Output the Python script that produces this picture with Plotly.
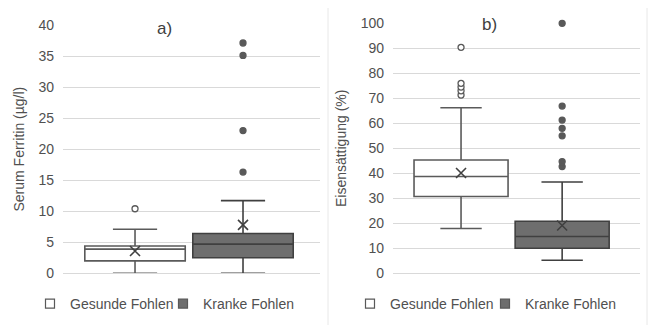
import plotly.graph_objects as go

# ---------------- data ----------------
groups = ["Gesunde Fohlen", "Kranke Fohlen"]

# a) Serum Ferritin (µg/l)
ferr_q1 = [2.0, 2.5]
ferr_median = [3.9, 4.7]
ferr_q3 = [4.4, 6.4]
ferr_lower = [0.0, 0.0]
ferr_upper = [7.1, 11.7]
ferr_mean = [3.6, 7.8]
ferr_out_gesund = [10.4]
ferr_out_krank = [16.3, 23.0, 35.1, 37.1]

# b) Eisensättigung (%)
sat_q1 = [30.7, 10.0]
sat_median = [38.7, 14.7]
sat_q3 = [45.3, 20.8]
sat_lower = [17.9, 5.2]
sat_upper = [66.2, 36.5]
sat_mean = [40.1, 19.1]
sat_out_gesund = [71.3, 73.0, 74.5, 76.0, 90.4]
sat_out_krank = [42.7, 44.7, 55.0, 58.0, 61.3, 66.9, 100.0]

ferr_ticks = [0, 5, 10, 15, 20, 25, 30, 35, 40]
sat_ticks = [0, 10, 20, 30, 40, 50, 60, 70, 80, 90, 100]

# ---------------- style ----------------
W, H = 650, 325
FONT = "Liberation Sans, Arial, sans-serif"
TXT = "#505050"
GRID = "#d9d9d9"
fills = ["#ffffff", "#6e6e6e"]
lines = ["#5a5a5a", "#404040"]
out_fill = ["#ffffff", "#595959"]

def px_x(p):
    return p / W

def px_y(p):
    return 1 - p / H

fig = go.Figure()

panels = [
    dict(xa="x", ya="y", q1=ferr_q1, med=ferr_median, q3=ferr_q3, lo=ferr_lower, hi=ferr_upper,
         mean=ferr_mean, outs=[ferr_out_gesund, ferr_out_krank], legend="legend"),
    dict(xa="x2", ya="y2", q1=sat_q1, med=sat_median, q3=sat_q3, lo=sat_lower, hi=sat_upper,
         mean=sat_mean, outs=[sat_out_gesund, sat_out_krank], legend="legend2"),
]

for p in panels:
    for i, g in enumerate(groups):
        fig.add_trace(go.Box(
            x=[i], q1=[p["q1"][i]], median=[p["med"][i]], q3=[p["q3"][i]],
            lowerfence=[p["lo"][i]], upperfence=[p["hi"][i]],
            width=0.93, whiskerwidth=0.44,
            fillcolor=fills[i], line=dict(color=lines[i], width=1.6),
            xaxis=p["xa"], yaxis=p["ya"], showlegend=False, hoverinfo="skip",
        ))
        fig.add_trace(go.Scatter(
            x=[i] * len(p["outs"][i]), y=p["outs"][i], mode="markers", cliponaxis=False,
            marker=dict(symbol="circle", size=6, color=out_fill[i],
                        line=dict(color="#595959", width=1.3)),
            xaxis=p["xa"], yaxis=p["ya"], showlegend=False, hoverinfo="skip",
        ))
        fig.add_trace(go.Scatter(
            x=[i], y=[p["mean"][i]], mode="markers", cliponaxis=False,
            marker=dict(symbol="x-thin", size=10, color="#404040",
                        line=dict(color="#404040", width=1.6)),
            xaxis=p["xa"], yaxis=p["ya"], showlegend=False, hoverinfo="skip",
        ))
    # legend entries
    for i, g in enumerate(groups):
        fig.add_trace(go.Scatter(
            x=[None], y=[None], mode="markers", name=g,
            marker=dict(symbol="square", size=9, color=fills[i],
                        line=dict(color="#595959", width=1.2)),
            xaxis=p["xa"], yaxis=p["ya"], showlegend=True, legend=p["legend"],
        ))

axis_common = dict(showgrid=True, gridcolor=GRID, gridwidth=1, zeroline=False, automargin=False,
                   showline=False, ticks="", tickfont=dict(family=FONT, size=14, color=TXT))

fig.update_layout(
    template="none",
    width=W, height=H,
    margin=dict(l=0, r=0, t=0, b=0, pad=0, autoexpand=False),
    paper_bgcolor="white", plot_bgcolor="white",
    font=dict(family=FONT, color=TXT),
    hovermode=False,
    xaxis=dict(domain=[px_x(63), px_x(320)], range=[-0.667, 1.713], showticklabels=False,
               showgrid=False, zeroline=False, showline=True, linecolor=GRID, linewidth=1,
               ticks="", automargin=False, anchor="y"),
    yaxis=dict(domain=[px_y(273.3), px_y(25)], range=[0, 40], tickvals=ferr_ticks,
               title=dict(text="Serum Ferritin (µg/l)", font=dict(family=FONT, size=14, color=TXT),
                          standoff=10),
               ticklabelstandoff=8, anchor="x", **axis_common),
    xaxis2=dict(domain=[px_x(393), px_x(640)], range=[-0.673, 1.77], showticklabels=False,
                showgrid=False, zeroline=False, showline=True, linecolor=GRID, linewidth=1,
                ticks="", automargin=False, anchor="y2"),
    yaxis2=dict(domain=[px_y(273.3), px_y(23.3)], range=[0, 100], tickvals=sat_ticks,
                title=dict(text="Eisensättigung (%)", font=dict(family=FONT, size=14, color=TXT),
                           standoff=10),
                ticklabelstandoff=8, anchor="x2", **axis_common),
    legend=dict(orientation="h", x=px_x(30), y=px_y(304), yanchor="middle", xanchor="left",
                font=dict(family=FONT, size=14, color=TXT), bgcolor="rgba(0,0,0,0)",
                entrywidth=88, tracegroupgap=0),
    legend2=dict(orientation="h", x=px_x(350), y=px_y(304), yanchor="middle", xanchor="left",
                 font=dict(family=FONT, size=14, color=TXT), bgcolor="rgba(0,0,0,0)",
                 entrywidth=90, tracegroupgap=0),
    annotations=[
        dict(text="a)", x=px_x(164), y=px_y(29), xref="paper", yref="paper",
             showarrow=False, font=dict(family=FONT, size=17, color="#404040"),
             xanchor="center", yanchor="middle"),
        dict(text="b)", x=px_x(489), y=px_y(24), xref="paper", yref="paper",
             showarrow=False, font=dict(family=FONT, size=17, color="#404040"),
             xanchor="center", yanchor="middle"),
    ],
    shapes=[
        dict(type="line", xref="paper", yref="paper", x0=px_x(328), x1=px_x(328),
             y0=0, y1=px_y(8), line=dict(color="#e8e8e8", width=1)),
        dict(type="line", xref="paper", yref="paper", x0=px_x(647), x1=px_x(647),
             y0=0, y1=px_y(8), line=dict(color="#e8e8e8", width=1)),
    ],
)

fig.write_html(
    "out.html",
    config={"displayModeBar": False, "staticPlot": True},
    post_script="document.body.style.margin='0px';document.body.style.overflow='hidden';",
)
